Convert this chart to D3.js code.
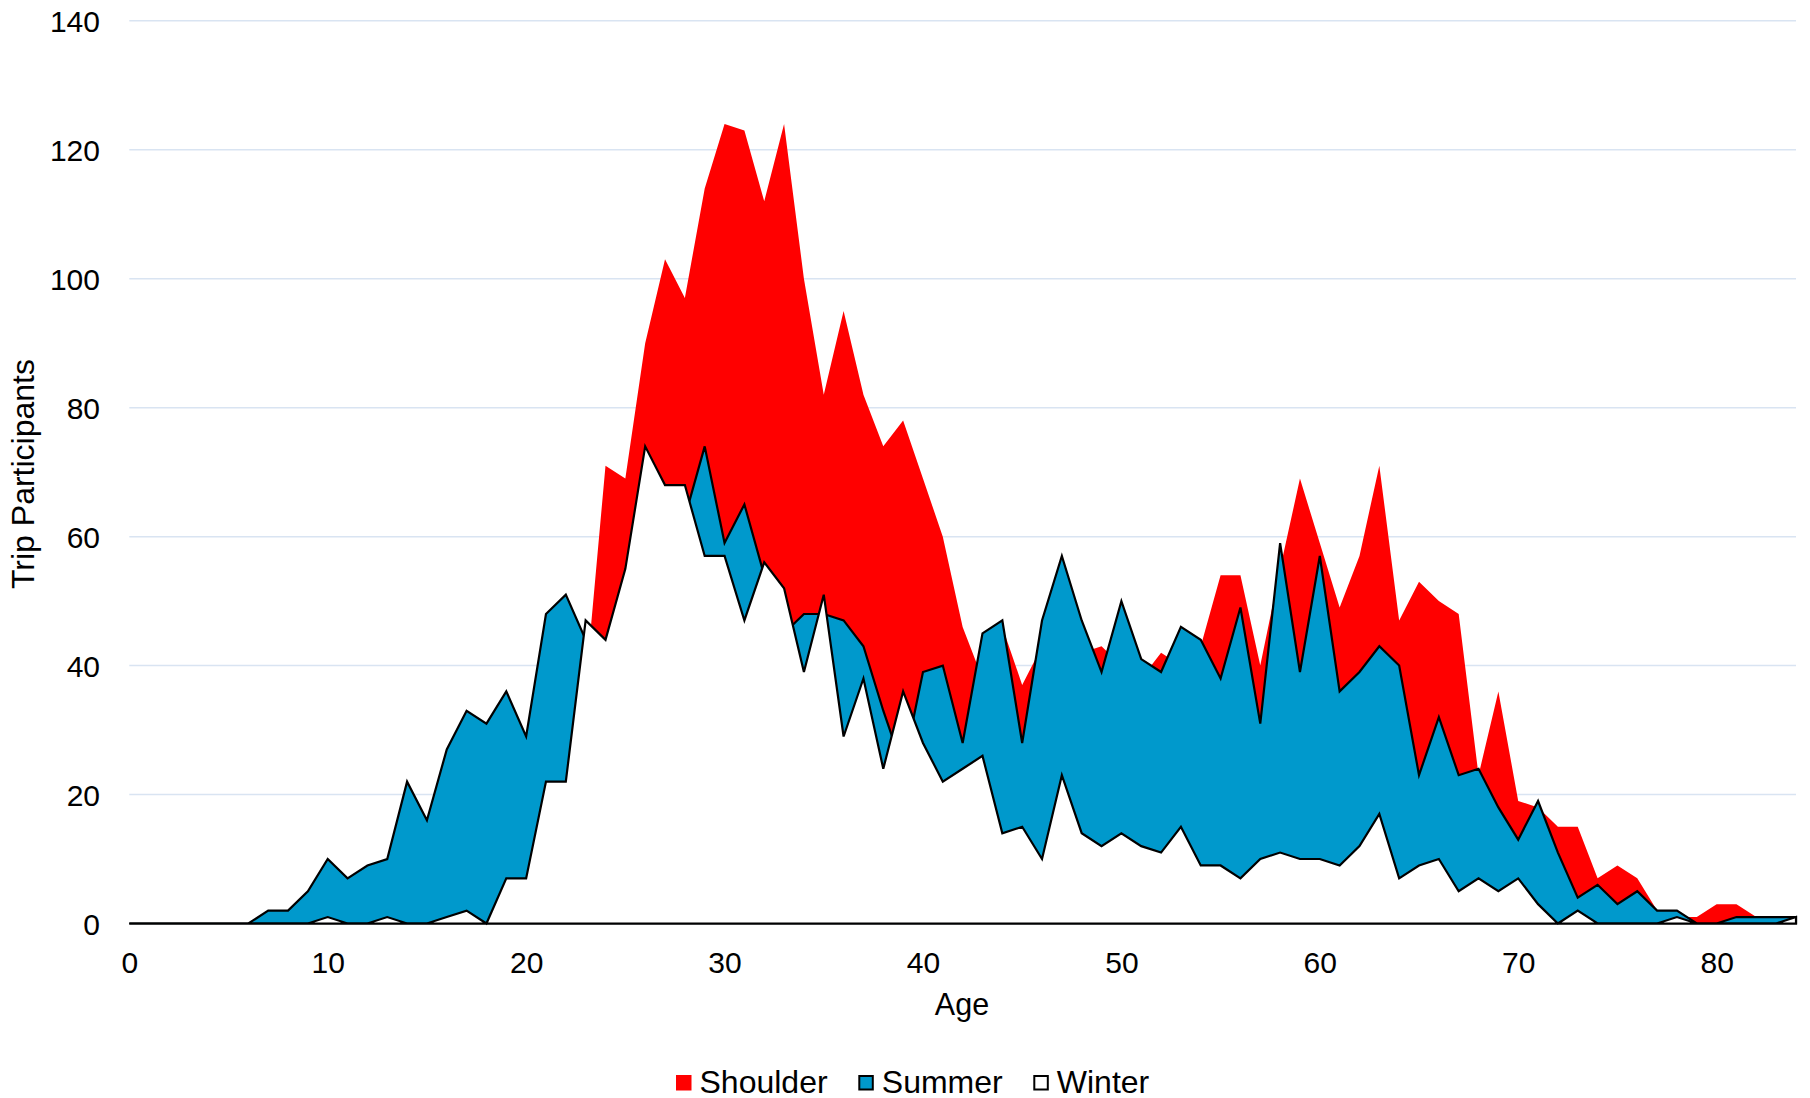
<!DOCTYPE html>
<html>
<head>
<meta charset="utf-8">
<script src="https://cdn.jsdelivr.net/npm/d3@7"></script>
<style>
  html, body { margin: 0; padding: 0; background: #ffffff; }
  svg { display: block; }
  text { font-family: "Liberation Sans", Arial, sans-serif; fill: #000; }
</style>
</head>
<body>
<svg id="chart" width="1810" height="1098"></svg>
<script>
// Ages 0..84
const ages = d3.range(0, 85);

const shoulder = [0,0,0,0,0,0,0,1,1,2, 4,3,5,4,7,8,12,14,16,15,
  18,26,30,37,71,69,90,103,97,114, 124,123,112,124,100,82,95,82,74,78,
  69,60,46,38,46,37,43,45,42,43, 40,38,42,40,43,54,54,40,55,69,
  59,49,57,71,47,53,50,48,23,36, 19,18,15,15,7,9,7,2,1,1,
  3,3,1,1,1];

const summer = [0,0,0,0,0,0,0,2,2,5, 10,7,9,10,22,16,27,33,31,36,
  29,48,51,44,40,50,60,58,63,74, 59,65,54,45,48,48,47,43,33,24,
  39,40,28,45,47,28,47,57,47,39, 50,41,39,46,44,38,49,31,59,39,
  57,36,39,43,40,23,32,23,24,18, 13,19,11,4,6,3,5,2,2,0,
  0,1,1,1,1];

const winter = [0,0,0,0,0,0,0,0,0,0, 1,0,0,1,0,0,1,2,0,7,
  7,22,22,47,44,55,74,68,68,57, 57,47,56,52,39,51,29,38,24,36,
  28,22,24,26,14,15,10,23,14,12, 14,12,11,15,9,9,7,10,11,10,
  10,9,12,17,7,9,10,5,7,5, 7,3,0,2,0,0,0,0,1,0,
  0,0,0,0,1];

const seriesNames = ["Shoulder", "Summer", "Winter"];
const seriesColors = ["#FF0000", "#0099CC", "#FFFFFF"];
const seriesStroke = [null, "#000000", "#000000"];
const xTicks = [0,10,20,30,40,50,60,70,80];
const yTicks = [0,20,40,60,80,100,120,140];

const svg = d3.select("#chart");
const x = d3.scaleLinear().domain([0, 84]).range([129.3, 1796]);
const y = d3.scaleLinear().domain([0, 140]).range([923.5, 20.8]);

// gridlines
svg.append("g").selectAll("line").data(yTicks).join("line")
  .attr("x1", x(0)).attr("x2", x(84))
  .attr("y1", d => y(d)).attr("y2", d => y(d))
  .attr("stroke", d => d === 0 ? "#c3d1e4" : "#d9e4f2")
  .attr("stroke-width", 1.5);

const data = [shoulder, summer, winter];
const area = d3.area()
  .x((d, i) => x(ages[i]))
  .y0(y(0))
  .y1(d => y(d));

data.forEach((vals, k) => {
  svg.append("path")
    .datum(vals)
    .attr("d", area)
    .attr("fill", seriesColors[k])
    .attr("stroke", seriesStroke[k] || "none")
    .attr("stroke-width", 2.2)
    .attr("stroke-linejoin", "miter");
});

// y axis labels
const yAxis = d3.axisLeft(y).tickValues(yTicks).tickSize(0).tickPadding(0);
const gy = svg.append("g").attr("transform", "translate(100,0)").call(yAxis);
gy.select(".domain").remove();
gy.selectAll("text").attr("font-size", 30).attr("dy", "0.36em")
  .style("font-family", "'Liberation Sans', Arial, sans-serif").attr("fill", "#000");

// x axis labels
const xAxis = d3.axisBottom(x).tickValues(xTicks).tickSize(0).tickPadding(0);
const gx = svg.append("g").attr("transform", "translate(0,951)").call(xAxis);
gx.select(".domain").remove();
gx.selectAll("text").attr("font-size", 30).attr("dy", "0.72em").attr("y", 0)
  .style("font-family", "'Liberation Sans', Arial, sans-serif").attr("fill", "#000");

// axis titles
svg.append("text").attr("x", 962).attr("y", 1015)
  .attr("text-anchor", "middle").attr("font-size", 30.5).text("Age");
svg.append("text").attr("transform", "translate(34,474) rotate(-90)")
  .attr("text-anchor", "middle").attr("font-size", 32).text("Trip Participants");

// legend
const legX = [676, 858.3, 1033.3];
const leg = svg.append("g");
seriesNames.forEach((name, k) => {
  leg.append("rect").attr("x", legX[k] + (seriesStroke[k] ? 1 : 0)).attr("y", 1075 + (seriesStroke[k] ? 1 : 0))
    .attr("width", seriesStroke[k] ? 13.5 : 15.5).attr("height", seriesStroke[k] ? 13.5 : 15.5)
    .attr("fill", seriesColors[k])
    .attr("stroke", seriesStroke[k] || "none").attr("stroke-width", 2);
  leg.append("text").attr("x", legX[k] + 23.5).attr("y", 1092.5)
    .attr("font-size", 32).text(name);
});
</script>
</body>
</html>
